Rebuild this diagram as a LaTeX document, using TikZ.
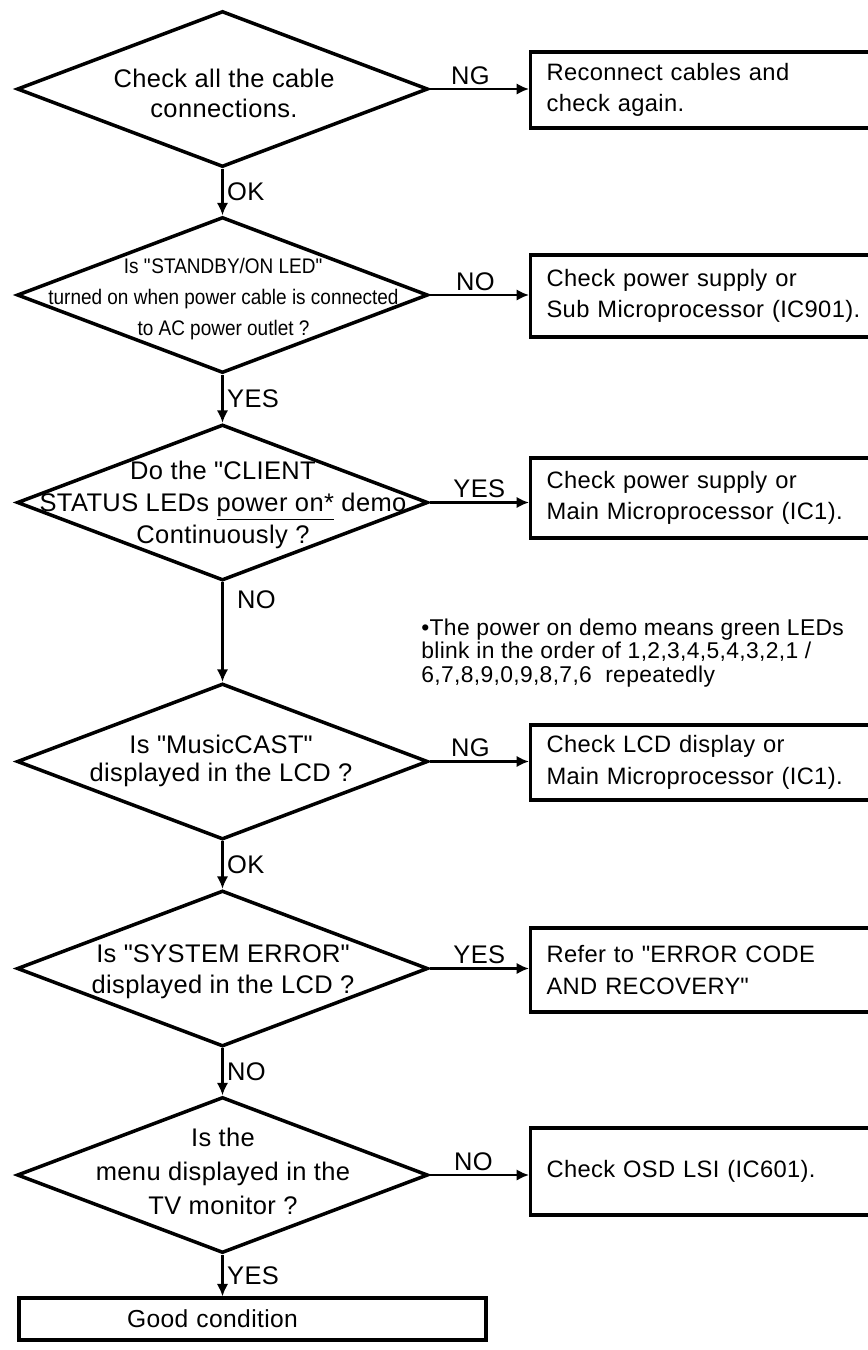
\documentclass[tikz,border=0pt]{standalone}
\usepackage{fontspec}
\setmainfont{Liberation Sans}[LetterSpace=1.5]
\newfontfamily\slimface{Liberation Sans}[FakeStretch=0.9]
\usetikzlibrary{arrows.meta, shapes.geometric}
\newcommand{\qt}{\textquotedbl}
\tikzset{
  dec/.style={draw, shape=diamond, minimum width=8.22cm, minimum height=3.12cm,
    inner sep=0pt, line width=2pt},
  dtext/.style={align=center, inner sep=0pt, font=\fontsize{14.5}{18}\selectfont},
  act/.style={draw, anchor=west, align=left, text width=6.6cm,
    inner xsep=0.32cm, line width=1.8pt, font=\fontsize{13.5}{18}\selectfont},
  flow/.style={-{Latex[length=2.5mm, width=2.3mm]}, line width=1.3pt},
  lbl/.style={font=\fontsize{14.5}{17}\selectfont, inner sep=2pt}
}
\begin{document}
\begin{tikzpicture}[x=0.02cm, y=-0.02cm]
\useasboundingbox (0,0) rectangle (868,1350);
% decisions
\node[dec] (cable) at (222.5,89) {};
\node[dtext, font=\fontsize{14.5}{17}\selectfont] (cablet) at (224,93) {Check all the cable\\connections.};
\node[dec] (standby) at (222.5,295) {};
\node[dtext, font=\fontsize{12}{17.6}\slimface] (standbyt) at (223.5,299) {Is \qt STANDBY/ON LED\qt\\turned on when power cable is connected\\to AC power outlet ?};
\node[dec] (client) at (222.5,502.5) {};
\node[dtext] (clientt) at (223,505) {Do the \qt CLIENT\\STATUS LEDs \underline{power on*} demo\\Continuously ?};
\node[dec] (mcast) at (222.5,761.5) {};
\node[dtext, font=\fontsize{14.5}{16}\selectfont] (mcastt) at (221,761) {Is \qt MusicCAST\qt\\displayed in the LCD ?};
\node[dec] (syserr) at (222.5,968.5) {};
\node[dtext, font=\fontsize{14.5}{17.6}\selectfont] (syserrt) at (223,972) {Is \qt SYSTEM ERROR\qt\\displayed in the LCD ?};
\node[dec] (menu) at (222.5,1175) {};
\node[dtext, font=\fontsize{14.5}{19.3}\selectfont] (menut) at (223,1171) {Is the\\menu displayed in the\\TV monitor ?};
% actions
\node[act, minimum height=1.52cm] (recon) at (529,90) {Reconnect cables and\\check again.};
\node[act, minimum height=1.64cm] (subcpu) at (529,296) {Check power supply or\\Sub Microprocessor (IC901).};
\node[act, minimum height=1.6cm] (maincpu) at (529,498) {Check power supply or\\Main Microprocessor (IC1).};
\node[act, minimum height=1.5cm] (lcd) at (529,762.5) {Check LCD display or\\Main Microprocessor (IC1).};
\node[act, minimum height=1.68cm] (errcode) at (529,970) {Refer to \qt ERROR CODE\\AND RECOVERY\qt};
\node[act, minimum height=1.74cm] (osd) at (529,1171.5) {Check OSD LSI (IC601).};
\node[draw, line width=1.8pt, align=left, text width=5.02cm, inner xsep=2.16cm,
  minimum height=0.84cm, font=\fontsize{14}{17}\selectfont] (good) at (252.5,1319) {Good condition};
\node[align=left, anchor=west, inner sep=0pt, font=\fontsize{13}{13.4}\selectfont] (demo) at (421,653)
  {•The power on demo means green LEDs\\blink in the order of 1,2,3,4,5,4,3,2,1 /\\6,7,8,9,0,9,8,7,6~~repeatedly};
% connectors
\draw[flow] (cable.east) -- (cable.east -| recon.west) node[lbl, midway, above, xshift=-0.18cm] {NG};
\draw[flow] (cable.south) -- (standby.north) node[lbl, midway, right] {OK};
\draw[flow] (standby.east) -- (standby.east -| subcpu.west) node[lbl, midway, above, xshift=-0.08cm] {NO};
\draw[flow] (standby.south) -- (client.north) node[lbl, midway, right] {YES};
\draw[flow] (client.east) -- (client.east -| maincpu.west) node[lbl, midway, above] {YES};
\draw[flow] (client.south) -- (mcast.north) node[lbl, pos=0.18, right, xshift=0.2cm] {NO};
\draw[flow] (mcast.east) -- (mcast.east -| lcd.west) node[lbl, midway, above, xshift=-0.18cm] {NG};
\draw[flow] (mcast.south) -- (syserr.north) node[lbl, midway, right] {OK};
\draw[flow] (syserr.east) -- (syserr.east -| errcode.west) node[lbl, midway, above] {YES};
\draw[flow] (syserr.south) -- (menu.north) node[lbl, midway, right] {NO};
\draw[flow] (menu.east) -- (menu.east -| osd.west) node[lbl, midway, above, xshift=-0.12cm] {NO};
\draw[flow] (menu.south) -- (menu.south |- good.north) node[lbl, midway, right] {YES};
\end{tikzpicture}
\end{document}
